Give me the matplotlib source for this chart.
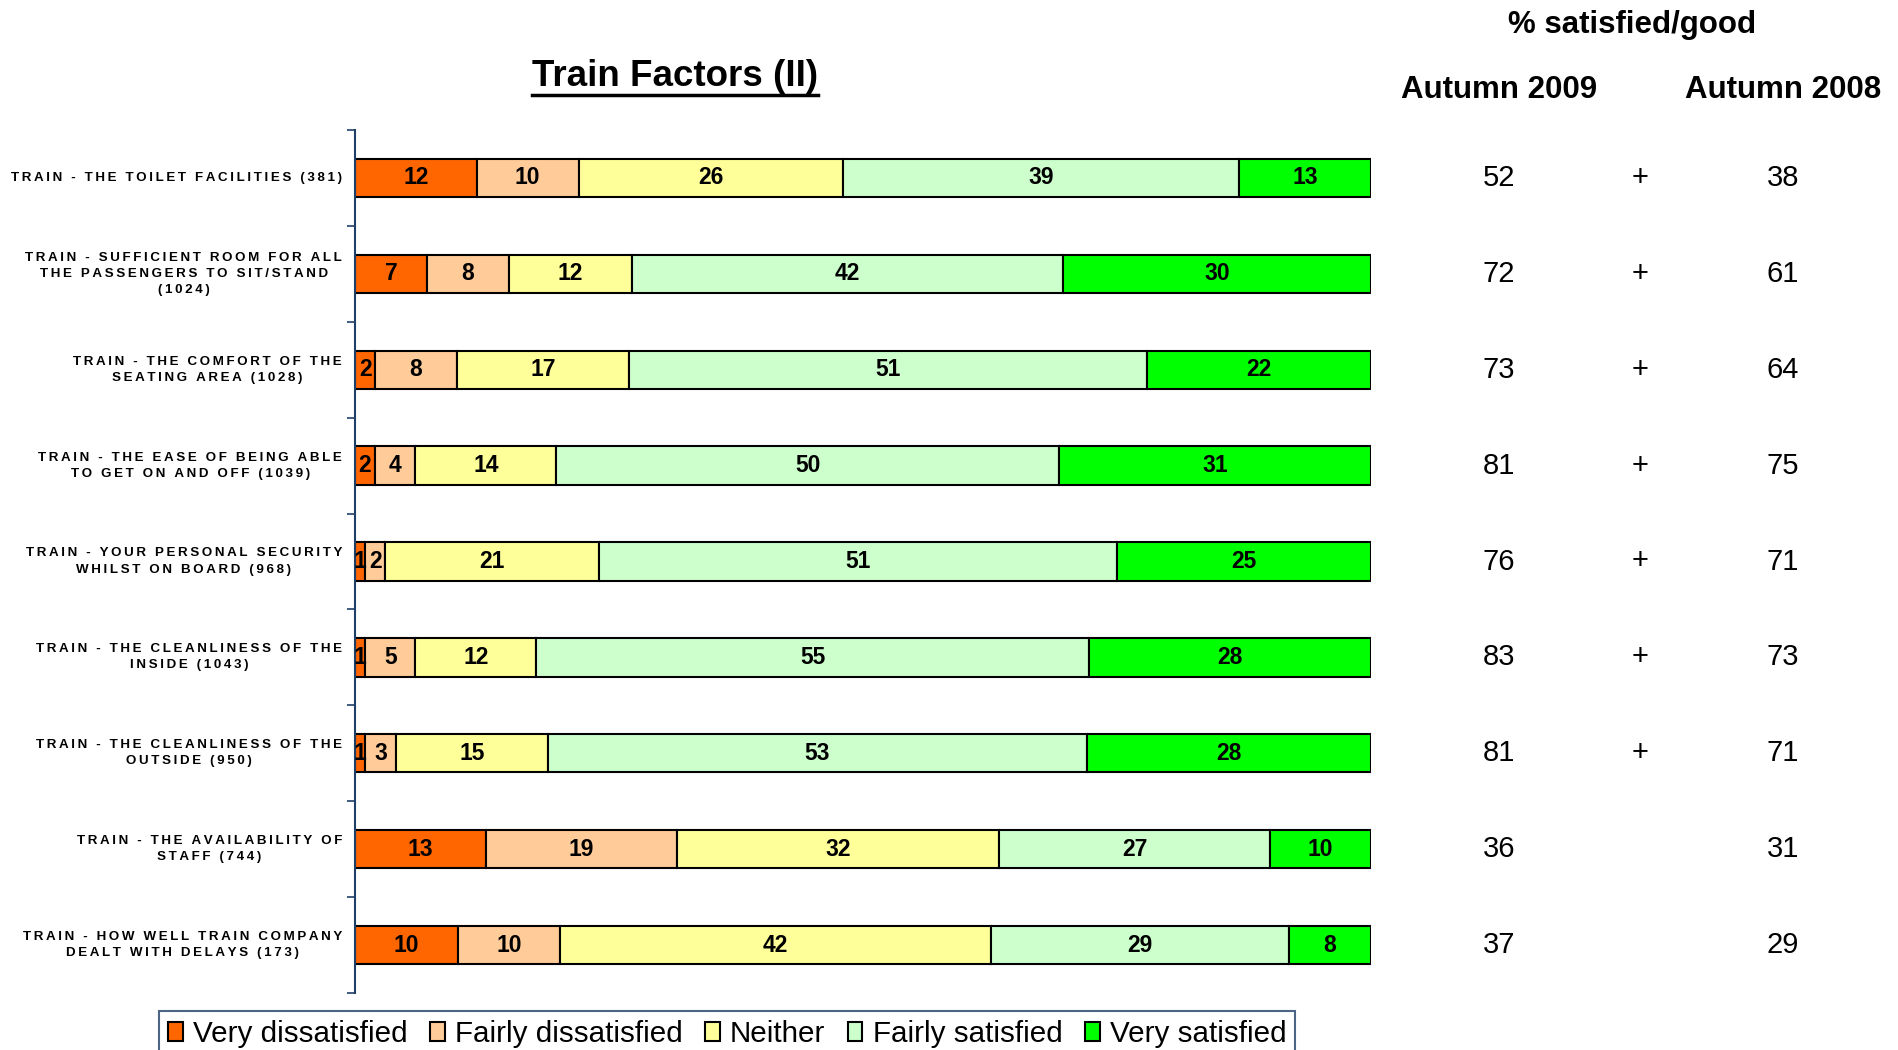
import matplotlib
matplotlib.use("Agg")
import matplotlib.pyplot as plt
import matplotlib.transforms as mtransforms
from matplotlib.lines import Line2D
import numpy as np

# ---- data ----
questions = [
    "TRAIN - THE TOILET FACILITIES (381)",
    "TRAIN - SUFFICIENT ROOM FOR ALL\nTHE PASSENGERS TO SIT/STAND\n(1024)",
    "TRAIN - THE COMFORT OF THE\nSEATING AREA (1028)",
    "TRAIN - THE EASE OF BEING ABLE\nTO GET ON AND OFF (1039)",
    "TRAIN - YOUR PERSONAL SECURITY\nWHILST ON BOARD (968)",
    "TRAIN - THE CLEANLINESS OF THE\nINSIDE (1043)",
    "TRAIN - THE CLEANLINESS OF THE\nOUTSIDE (950)",
    "TRAIN - THE AVAILABILITY OF\nSTAFF (744)",
    "TRAIN - HOW WELL TRAIN COMPANY\nDEALT WITH DELAYS (173)",
]
categories = ["Very dissatisfied", "Fairly dissatisfied", "Neither",
              "Fairly satisfied", "Very satisfied"]
very_dissatisfied = [12, 7, 2, 2, 1, 1, 1, 13, 10]
fairly_dissatisfied = [10, 8, 8, 4, 2, 5, 3, 19, 10]
neither = [26, 12, 17, 14, 21, 12, 15, 32, 42]
fairly_satisfied = [39, 42, 51, 50, 51, 55, 53, 27, 29]
very_satisfied = [13, 30, 22, 31, 25, 28, 28, 10, 8]

autumn_2009 = [52, 72, 73, 81, 76, 83, 81, 36, 37]
autumn_2008 = [38, 61, 64, 75, 71, 73, 71, 31, 29]
significance = ["+", "+", "+", "+", "+", "+", "+", "", ""]

colors = ["#FF6600", "#FFCC99", "#FFFF99", "#CCFFCC", "#00FF00"]

series = np.array([very_dissatisfied, fairly_dissatisfied, neither,
                   fairly_satisfied, very_satisfied], dtype=float)
# bars in the original fill the full width, so scale each row to 100
shares = series / series.sum(axis=0) * 100

SANS = ["Liberation Sans", "DejaVu Sans"]
plt.rcParams["font.family"] = SANS
AXIS_BLUE = "#1F3F66"


def spaced(s):
    # rough letter spacing like the original labels
    return "\n".join("\u2009".join(line) for line in s.split("\n"))


fig = plt.figure(figsize=(18.98, 10.5), dpi=100)
ax = fig.add_axes([355 / 1898, 1 - 993 / 1050, 1016 / 1898, 863 / 1050])

y = np.arange(len(questions))
left = np.zeros(len(questions))
for k in range(len(categories)):
    bars = ax.barh(y, shares[k], left=left, height=0.4, color=colors[k],
                   edgecolor="black", linewidth=1.5, label=categories[k])
    ax.bar_label(bars, labels=[str(int(v)) for v in series[k]],
                 label_type="center", fontsize=16.5, fontweight="bold",
                 color="black")
    left += shares[k]

ax.set_xlim(0, 100)
ax.set_ylim(len(questions) - 0.5, -0.5)
for s in ["top", "right", "bottom"]:
    ax.spines[s].set_visible(False)
ax.spines["left"].set_color(AXIS_BLUE)
ax.spines["left"].set_linewidth(1.5)
ax.set_xticks([])
ax.set_yticks([])
ax.set_yticks(np.arange(-0.5, len(questions)), minor=True)
ax.tick_params(axis="y", which="minor", length=6, width=1.2,
               color=AXIS_BLUE, labelleft=False)

# question labels, right-aligned block, centred lines
lab_tr = mtransforms.blended_transform_factory(ax.transAxes, ax.transData)
for i, q in enumerate(questions):
    ax.text(-0.0128, i, spaced(q), transform=lab_tr, ha="right", va="center",
            multialignment="center", fontsize=9.6, fontweight="bold",
            linespacing=1.45)

# right-hand columns
col_tr = mtransforms.blended_transform_factory(fig.transFigure, ax.transData)
for i in range(len(questions)):
    ax.text(1499 / 1898, i, str(autumn_2009[i]), transform=col_tr,
            ha="center", va="center", fontsize=21)
    ax.text(1640 / 1898, i, significance[i], transform=col_tr,
            ha="center", va="center", fontsize=21)
    ax.text(1783 / 1898, i, str(autumn_2008[i]), transform=col_tr,
            ha="center", va="center", fontsize=21)

fig.text(1632 / 1898, 1 - 25 / 1050, "% satisfied/good", ha="center",
         va="center", fontsize=22.5, fontweight="bold")
fig.text(1499 / 1898, 1 - 90 / 1050, "Autumn 2009", ha="center",
         va="center", fontsize=22.5, fontweight="bold")
fig.text(1783 / 1898, 1 - 90 / 1050, "Autumn 2008", ha="center",
         va="center", fontsize=22.5, fontweight="bold")

title = fig.text(675 / 1898, 1 - 77 / 1050, "Train Factors (II)", ha="center",
                 va="center", fontsize=26.5, fontweight="bold")

# underline the title
fig.canvas.draw()
bb = title.get_window_extent()
uy = 1 - 95 / 1050
fig.add_artist(Line2D([bb.x0 / fig.bbox.width, bb.x1 / fig.bbox.width],
                      [uy, uy], transform=fig.transFigure,
                      color="black", linewidth=2.5))

leg = fig.legend(loc="upper left", bbox_to_anchor=(159 / 1898, 1 - 1011 / 1050),
                 ncol=5, frameon=True, fancybox=False, edgecolor=AXIS_BLUE,
                 prop={"size": 21.3}, handlelength=0.5,
                 handleheight=0.6, handletextpad=0.35, columnspacing=0.75,
                 borderpad=0.3, borderaxespad=0)
leg.get_frame().set_linewidth(1.5)

fig.savefig("out.png", dpi=100)
